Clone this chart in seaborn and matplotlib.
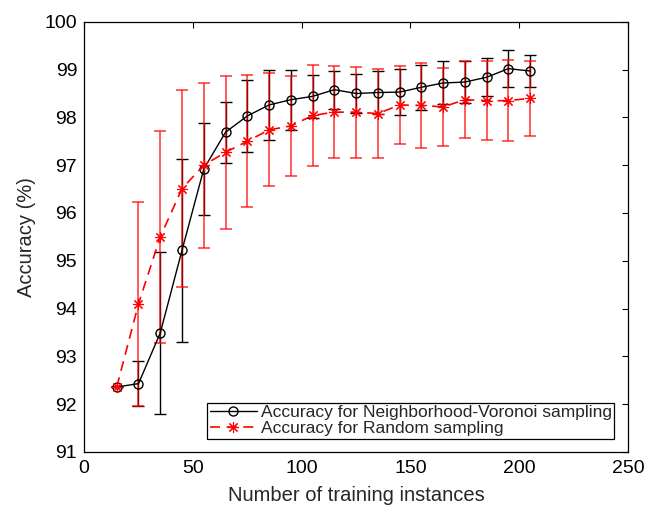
import numpy as np
import pandas as pd
import matplotlib
matplotlib.use('Agg')
import matplotlib.pyplot as plt
import seaborn as sns

# Values
instances = [15, 25, 35, 45, 55, 65, 75, 85, 95, 105,
             115, 125, 135, 145, 155, 165, 175, 185, 195, 205]

nv_mean = [92.36, 92.43, 93.49, 95.22, 96.92, 97.69, 98.03, 98.26, 98.37, 98.44,
           98.58, 98.50, 98.52, 98.53, 98.63, 98.72, 98.74, 98.84, 99.02, 98.97]
nv_std = [0.0, 0.47, 1.69, 1.92, 0.97, 0.64, 0.75, 0.73, 0.63, 0.45,
          0.40, 0.40, 0.45, 0.49, 0.47, 0.45, 0.43, 0.40, 0.38, 0.34]

rnd_mean = [92.36, 94.10, 95.50, 96.51, 97.00, 97.27, 97.50, 97.74, 97.82, 98.04,
            98.11, 98.11, 98.08, 98.26, 98.25, 98.22, 98.37, 98.35, 98.35, 98.40]
rnd_std = [0.0, 2.14, 2.21, 2.06, 1.73, 1.60, 1.38, 1.18, 1.05, 1.05,
           0.96, 0.95, 0.93, 0.81, 0.88, 0.81, 0.80, 0.83, 0.85, 0.79]

label_nv = 'Accuracy for Neighborhood-Voronoi sampling'
label_rnd = 'Accuracy for Random sampling'

df = pd.DataFrame({
    'instances': instances * 2,
    'accuracy': nv_mean + rnd_mean,
    'method': [label_nv] * len(instances) + [label_rnd] * len(instances),
})

sns.set_style('white')
plt.rcParams['font.family'] = ['Liberation Sans', 'DejaVu Sans']
plt.rcParams['font.size'] = 14

fig = plt.figure(figsize=(6.57, 5.07), dpi=100)
ax = fig.add_axes([0.128, 0.1085, 0.828, 0.8485])

# error bars first
ax.errorbar(instances, nv_mean, yerr=nv_std, fmt='none', ecolor='black',
            elinewidth=1, capsize=4, capthick=1, zorder=2)
ax.errorbar(instances, rnd_mean, yerr=rnd_std, fmt='none', ecolor=(1, 0, 0, 0.75),
            elinewidth=1.2, capsize=4.5, capthick=1.2, zorder=3)

sns.lineplot(data=df[df['method'] == label_nv], x='instances', y='accuracy',
             color='black', linewidth=1, marker='o', markersize=6.5,
             markerfacecolor='none', markeredgecolor='black', markeredgewidth=1,
             label=label_nv, ax=ax, zorder=4)
sns.lineplot(data=df[df['method'] == label_rnd], x='instances', y='accuracy',
             color='red', linewidth=1.2, linestyle=(0, (6, 4)), marker=(8, 2, 0),
             markersize=8, markeredgecolor='red', markeredgewidth=0.8,
             label=label_rnd, ax=ax, zorder=5)

ax.set_xlim(0, 250)
ax.set_ylim(91, 100)
ax.set_xticks([0, 50, 100, 150, 200, 250])
ax.set_yticks(range(91, 101))
ax.set_xlabel('Number of training instances', fontsize=14.5, labelpad=6)
ax.set_ylabel('Accuracy (%)', fontsize=14.5, labelpad=6)
ax.tick_params(direction='in', length=4.5, width=0.8, top=True, right=True,
               labelsize=14, colors='black')
ax.tick_params(axis='x', pad=6)
ax.tick_params(axis='y', pad=5)
for s in ax.spines.values():
    s.set_visible(True)
    s.set_color('black')
    s.set_linewidth(0.9)

leg = ax.legend(loc='lower right', bbox_to_anchor=(0.975, 0.03), fontsize=12.5,
                frameon=True, fancybox=False, edgecolor='black', framealpha=1,
                borderpad=0.15, labelspacing=0.05, handlelength=2.7,
                handletextpad=0.25, borderaxespad=0)
leg.get_frame().set_linewidth(0.9)

fig.savefig('out.png', dpi=100)
